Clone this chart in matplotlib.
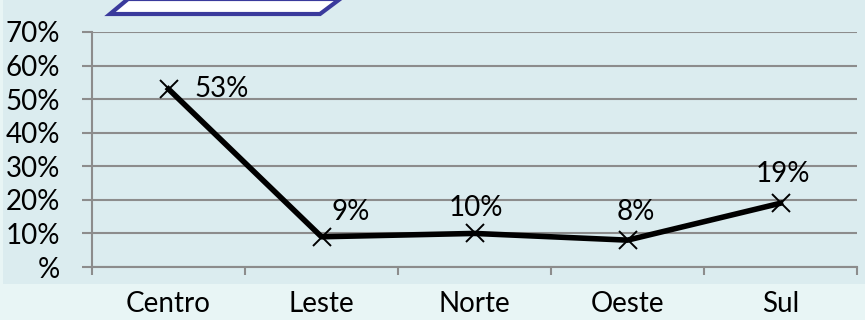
import matplotlib
matplotlib.use('Agg')
import matplotlib.pyplot as plt
from matplotlib.patches import Polygon, Rectangle
from matplotlib.ticker import FuncFormatter

regions = ['Centro', 'Leste', 'Norte', 'Oeste', 'Sul']
shares = [53, 9, 10, 8, 19]
yticks = [0, 10, 20, 30, 40, 50, 60, 70]

# label offsets in points (dx, dy)
label_off = [(38, 0), (21, 18), (1, 18), (6, 20), (2, 21)]

plt.rcParams['font.family'] = ['Lato', 'DejaVu Sans']

W, H = 865, 320
fig = plt.figure(figsize=(W / 100, H / 100), dpi=100)
fig.patch.set_facecolor('#e8f5f5')

# upper chart-area background
fig.patches.append(Rectangle((3 / W, (H - 284) / H), (W - 3) / W, 284 / H,
                             transform=fig.transFigure, facecolor='#dbecef',
                             edgecolor='none', zorder=-10))

# clipped title box at top
fig.patches.append(Polygon([(110 / W, (H - 14) / H), (320 / W, (H - 14) / H),
                            (340 / W, (H + 1) / H), (128 / W, (H + 1) / H)],
                           closed=True, transform=fig.transFigure,
                           facecolor='white', edgecolor='#3a3a9c', lw=3, zorder=-5))

ax = fig.add_axes([92 / W, (H - 267) / H, (857 - 92) / W, (267 - 32) / H])
ax.set_facecolor('none')

x = list(range(len(regions)))
ax.plot(x, shares, color='black', lw=4, marker='x', markersize=13,
        markeredgewidth=1.4, solid_joinstyle='round', zorder=3)

for i, v in enumerate(shares):
    ax.annotate('{}%'.format(v), (i, v), xytext=label_off[i], textcoords='offset points',
                ha='center', va='center', fontsize=20, color='black')

ax.set_xlim(-0.5, len(regions) - 0.5)
ax.set_ylim(0, 70)
ax.set_yticks(yticks)
ax.yaxis.set_major_formatter(FuncFormatter(lambda v, p: '%' if v == 0 else '{:d}%'.format(int(v))))
ax.set_xticks(x)
ax.set_xticklabels(regions)
ax.set_xticks([i - 0.5 for i in range(len(regions) + 1)], minor=True)

ax.grid(axis='y', color='#8c8c8c', lw=1.5)
ax.set_axisbelow(True)
for s in ['top', 'right']:
    ax.spines[s].set_visible(False)
for s in ['left', 'bottom']:
    ax.spines[s].set_color('#8c8c8c')
    ax.spines[s].set_linewidth(1.5)

ax.tick_params(axis='y', length=7, width=1.5, color='#8c8c8c', pad=16, labelsize=20)
ax.tick_params(axis='x', which='major', length=0, pad=17, labelsize=20)
ax.tick_params(axis='x', which='minor', length=6, width=1.5, color='#8c8c8c')

fig.savefig('out.png', dpi=100)
